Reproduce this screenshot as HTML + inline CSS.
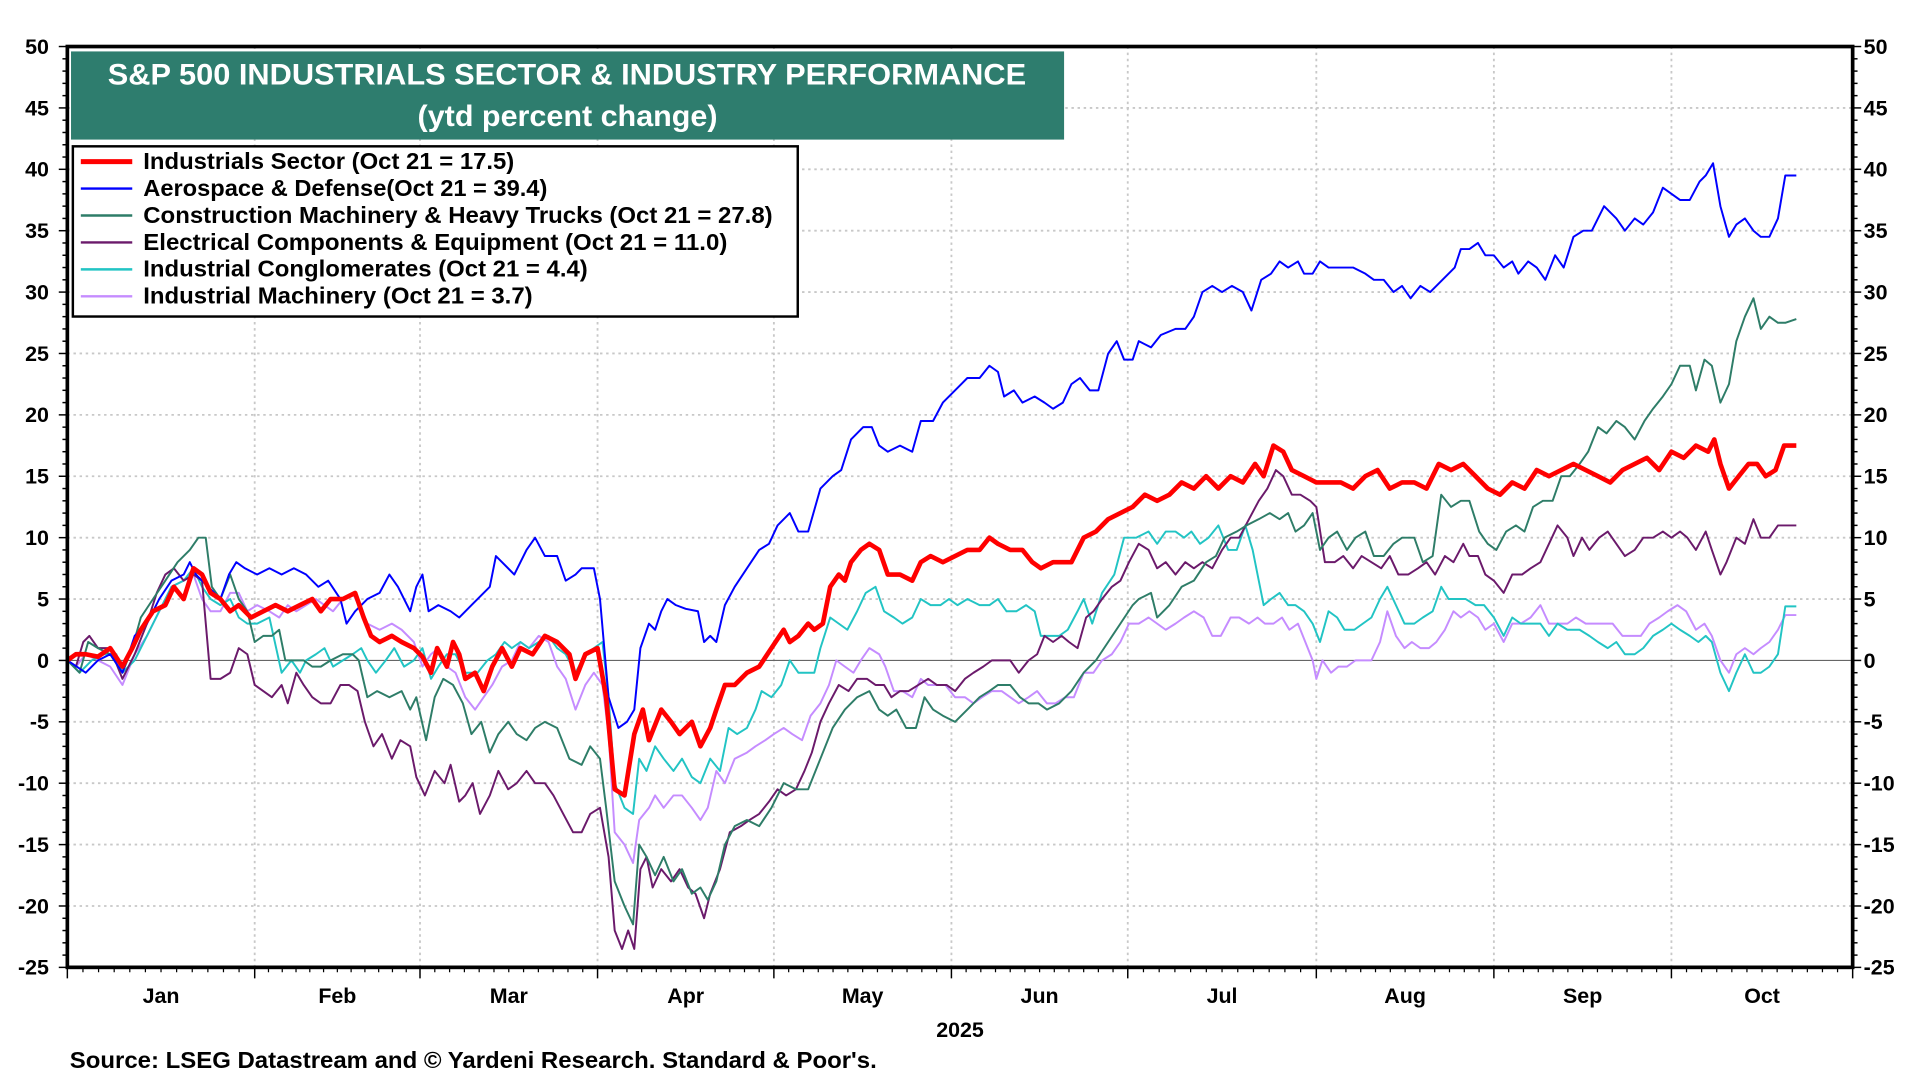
<!DOCTYPE html>
<html><head><meta charset="utf-8"><style>
html,body{margin:0;padding:0;background:#fff;}
svg{display:block;}
text{font-family:"Liberation Sans",Arial,sans-serif;font-weight:bold;}
</style></head><body>
<svg id="c" width="1920" height="1080" viewBox="0 0 1568 882" xmlns="http://www.w3.org/2000/svg">
<rect width="1568" height="882" fill="#fff"/>
<g id="grid"></g>
<g id="series" fill="none" stroke-linejoin="round"></g>
<rect x="55" y="38" width="1458" height="752" fill="none" stroke="#000" stroke-width="3"/>
<g id="ticks"></g>
<rect x="58" y="42" width="811" height="72" fill="#2E7D6E"/>
<text x="88" y="69" fill="#fff" font-size="24" textLength="750" lengthAdjust="spacingAndGlyphs">S&amp;P 500 INDUSTRIALS SECTOR &amp; INDUSTRY PERFORMANCE</text>
<text x="341" y="103" fill="#fff" font-size="24" textLength="245" lengthAdjust="spacingAndGlyphs">(ytd percent change)</text>
<rect x="59.5" y="119.5" width="592" height="139" fill="#fff" stroke="#000" stroke-width="2"/>
<g font-size="18.5">
<line x1="66" y1="132" x2="108" y2="132" stroke="#f00" stroke-width="4"/><text x="117" y="138" textLength="303" lengthAdjust="spacingAndGlyphs">Industrials Sector (Oct 21 = 17.5)</text>
<line x1="66" y1="154" x2="108" y2="154" stroke="#00f" stroke-width="2"/><text x="117" y="160" textLength="330" lengthAdjust="spacingAndGlyphs">Aerospace &amp; Defense(Oct 21 = 39.4)</text>
<line x1="66" y1="176" x2="108" y2="176" stroke="#2E7D68" stroke-width="2"/><text x="117" y="182" textLength="514" lengthAdjust="spacingAndGlyphs">Construction Machinery &amp; Heavy Trucks (Oct 21 = 27.8)</text>
<line x1="66" y1="198" x2="108" y2="198" stroke="#6B1A6B" stroke-width="2"/><text x="117" y="204" textLength="477" lengthAdjust="spacingAndGlyphs">Electrical Components &amp; Equipment (Oct 21 = 11.0)</text>
<line x1="66" y1="220" x2="108" y2="220" stroke="#22C4C4" stroke-width="2"/><text x="117" y="226" textLength="363" lengthAdjust="spacingAndGlyphs">Industrial Conglomerates (Oct 21 = 4.4)</text>
<line x1="66" y1="242" x2="108" y2="242" stroke="#C58CFF" stroke-width="2"/><text x="117" y="248" textLength="318" lengthAdjust="spacingAndGlyphs">Industrial Machinery (Oct 21 = 3.7)</text>
</g>
<g id="labels" font-size="17.5"></g>
<text x="784" y="847" font-size="17.5" text-anchor="middle">2025</text>
<text x="57" y="872" font-size="18.5" textLength="659" lengthAdjust="spacingAndGlyphs">Source: LSEG Datastream and © Yardeni Research. Standard &amp; Poor's.</text>
</svg>
<script>
const NS="http://www.w3.org/2000/svg";
function el(p,t,a,txt){const e=document.createElementNS(NS,t);for(const k in a)e.setAttribute(k,a[k]);if(txt!==undefined)e.textContent=txt;document.getElementById(p).appendChild(e);return e;}
const Y=v=>38+(50-v)*10.027;
const months=[55,208,343,488,632,777,921,1075,1220,1365,1513];
const names=["Jan","Feb","Mar","Apr","May","Jun","Jul","Aug","Sep","Oct"];
for(let v=-20;v<=45;v+=5){ if(v!==0) el("grid","line",{x1:55,x2:1513,y1:Y(v),y2:Y(v),stroke:"#c8c8c8","stroke-width":1.5,"stroke-dasharray":"2,3"}); }
for(let i=1;i<10;i++) el("grid","line",{x1:months[i],x2:months[i],y1:38,y2:790,stroke:"#c8c8c8","stroke-width":1.5,"stroke-dasharray":"2,3"});
el("grid","line",{x1:55,x2:1513,y1:Y(0),y2:Y(0),stroke:"#666","stroke-width":1});
for(let v=-25;v<=50;v++){
 const big=v%5===0;
 el("ticks","line",{x1:big?48:51,x2:55,y1:Y(v),y2:Y(v),stroke:"#000","stroke-width":1.2});
 el("ticks","line",{x1:1513,x2:big?1520:1517,y1:Y(v),y2:Y(v),stroke:"#000","stroke-width":1.2});
 if(big){el("labels","text",{x:40,y:Y(v)+6,"text-anchor":"end"},String(v));el("labels","text",{x:1522,y:Y(v)+6},String(v));}
}
for(let i=0;i<10;i++){
 const a=months[i],b=months[i+1];
 el("ticks","line",{x1:a,x2:a,y1:790,y2:799,stroke:"#000","stroke-width":1.2});
 for(let k=1;k<12;k++){const x=a+(b-a)*k/12;el("ticks","line",{x1:x,x2:x,y1:790,y2:794,stroke:"#000","stroke-width":1});}
 el("labels","text",{x:(a+b)/2,y:819,"text-anchor":"middle"},names[i]);
}
el("ticks","line",{x1:1513,x2:1513,y1:790,y2:799,stroke:"#000","stroke-width":1.2});
function S(str,color,w){const pts=str.trim().split(/,\s*/).map(p=>p.split(":").map(Number));
 el("series","path",{d:"M"+pts.map(p=>p[0]+" "+Y(p[1]).toFixed(1)).join("L"),stroke:color,"stroke-width":w});}
S(`55:0, 62:-0.5, 70:0.5, 80:0, 90:-0.5, 100:-2, 110:0.5, 120:2, 130:4, 140:6, 150:6.5, 158:7, 165:5, 172:4, 180:4, 188:5.5, 195:5.5, 202:4, 210:4.5, 220:4, 228:3.5, 235:4.5, 242:4, 250:4.5, 258:5, 265:4.5, 272:4, 280:5, 288:5.5, 295:4, 300:3, 310:2.5, 320:3, 328:2.5, 338:1.5, 345:-0.5, 352:0.5, 358:1, 365:-0.5, 372:-1, 380:-3, 388:-4, 395:-3, 402:-2, 410:-0.5, 418:0, 425:1.5, 432:1, 440:2, 448:1.5, 455:-0.5, 462:-1.5, 470:-4, 478:-2, 485:-1, 492:-2, 497:-6, 502:-14, 510:-15, 517:-16.5, 522:-13, 530:-12, 535:-11, 542:-12, 550:-11, 557:-11, 565:-12, 572:-13, 578:-12, 585:-9, 592:-10, 600:-8, 610:-7.5, 617:-7, 625:-6.5, 632:-6, 640:-5.5, 647:-6, 655:-6.5, 662:-4.5, 670:-3.5, 677:-2, 683:0, 690:-0.5, 697:-1, 703:0, 710:1, 718:0.5, 723:-0.5, 730:-2.5, 737:-2.5, 745:-3, 752:-1.5, 758:-2, 765:-2, 772:-2, 780:-3, 788:-3, 795:-3.5, 802:-3, 810:-2.5, 818:-2.5, 825:-3, 832:-3.5, 840:-3, 847:-2.5, 855:-3.5, 862:-3.5, 870:-3, 877:-3, 885:-1, 893:-1, 900:0, 908:0.5, 915:1.5, 922:3, 930:3, 938:3.5, 945:3, 952:2.5, 960:3, 967:3.5, 975:4, 983:3.5, 990:2, 997:2, 1005:3.5, 1012:3.5, 1020:3, 1027:3.5, 1033:3, 1040:3, 1047:3.5, 1053:2.5, 1060:3, 1066:1.5, 1072:0, 1075:-1.5, 1080:0, 1087:-1, 1093:-0.5, 1100:-0.5, 1107:0, 1113:0, 1120:0, 1127:1.5, 1133:4, 1140:2, 1147:1, 1153:1.5, 1160:1, 1167:1, 1173:1.5, 1180:2.5, 1187:4, 1193:3.5, 1200:4, 1207:3.5, 1213:2.5, 1220:3, 1228:1.5, 1235:3, 1242:3, 1250:3.5, 1258:4.5, 1265:3, 1272:3, 1280:3, 1287:3.5, 1295:3, 1302:3, 1310:3, 1317:3, 1325:2, 1332:2, 1340:2, 1347:3, 1355:3.5, 1362:4, 1370:4.5, 1377:4, 1385:2.5, 1392:3, 1398:2, 1405:0, 1412:-1, 1418:0.5, 1425:1, 1432:0.5, 1438:1, 1445:1.5, 1452:2.5, 1458:3.7, 1467:3.7`,"#C58CFF",1.6);
S(`55:0, 65:-1, 75:0, 85:0.5, 95:0.5, 100:-1, 110:0, 120:2, 130:4, 140:6, 150:6.5, 158:7.5, 165:6, 172:5, 180:4.5, 188:5, 195:3.5, 202:3, 210:3, 220:3.5, 230:-1, 238:0, 245:-1, 250:0, 258:0.5, 265:1, 272:-0.5, 280:0, 288:0.5, 295:1, 300:0, 307:-1, 315:0, 322:1, 330:-0.5, 338:0, 345:1, 352:-1.5, 358:-0.5, 365:0.5, 372:0.5, 380:-1, 390:-1, 398:0, 405:0.5, 412:1.5, 418:1, 425:1.5, 432:1, 440:1.5, 448:2, 455:1, 462:0.5, 470:-1, 478:0.5, 485:1, 492:1.5, 497:-3, 502:-10, 510:-12, 517:-12.5, 522:-8, 528:-9, 535:-7, 542:-8, 550:-9, 557:-8, 565:-9.5, 572:-10, 580:-8, 588:-9, 595:-5.5, 602:-6, 610:-5.5, 617:-4, 622:-2.5, 630:-3, 638:-2, 645:0, 652:-1, 660:-1, 665:-1, 670:1, 678:3.5, 685:3, 692:2.5, 700:4, 707:5.5, 715:6, 722:4, 730:3.5, 737:3, 745:3.5, 752:5, 760:4.5, 768:4.5, 775:5, 782:4.5, 790:5, 800:4.5, 808:4.5, 815:5, 822:4, 830:4, 838:4.5, 845:4, 850:2, 858:2, 865:2, 872:2.5, 880:4, 885:5, 892:3, 900:5.5, 910:7, 918:10, 928:10, 938:10.5, 945:9.5, 952:10.5, 960:10.5, 967:10, 973:10.5, 980:9.5, 987:10, 995:11, 1003:9, 1010:9, 1017:11, 1023:9, 1028:6.5, 1032:4.5, 1038:5, 1045:5.5, 1052:4.5, 1058:4.5, 1065:4, 1072:3, 1078:1.5, 1085:4, 1092:3.5, 1098:2.5, 1106:2.5, 1113:3, 1120:3.5, 1127:5, 1133:6, 1140:4.5, 1147:3, 1155:3, 1162:3.5, 1170:4, 1177:6, 1183:5, 1190:5, 1197:5, 1205:4.5, 1212:4.5, 1220:3.5, 1228:2, 1235:3.5, 1242:3, 1250:3, 1258:3, 1265:2, 1272:3, 1280:2.5, 1290:2.5, 1298:2, 1305:1.5, 1313:1, 1320:1.5, 1327:0.5, 1335:0.5, 1342:1, 1350:2, 1358:2.5, 1365:3, 1372:2.5, 1380:2, 1387:1.5, 1393:2, 1398:1.5, 1405:-1, 1412:-2.5, 1418:-1, 1425:0.5, 1432:-1, 1438:-1, 1445:-0.5, 1452:0.5, 1458:4.4, 1467:4.4`,"#22C4C4",1.6);
S(`55:0, 62:-0.5, 68:1.5, 73:2, 80:1, 90:1, 100:-1.5, 110:0.5, 120:3, 128:5.5, 135:7, 142:7.5, 150:6.5, 158:7, 165:6.5, 172:-1.5, 180:-1.5, 188:-1, 195:1, 202:0.5, 208:-2, 215:-2.5, 222:-3, 230:-2, 235:-3.5, 242:-1, 248:-2, 255:-3, 262:-3.5, 270:-3.5, 278:-2, 285:-2, 292:-2.5, 298:-5, 305:-7, 312:-6, 320:-8, 327:-6.5, 335:-7, 340:-9.5, 347:-11, 355:-9, 363:-10, 368:-8.5, 375:-11.5, 380:-11, 386:-10, 392:-12.5, 400:-11, 407:-9, 415:-10.5, 422:-10, 430:-9, 437:-10, 445:-10, 452:-11, 460:-12.5, 468:-14, 475:-14, 482:-12.5, 490:-12, 497:-16, 502:-22, 508:-23.5, 513:-22, 518:-23.5, 523:-17, 528:-16, 533:-18.5, 540:-17, 548:-18, 555:-17, 562:-18.5, 568:-19, 575:-21, 580:-19, 588:-17, 596:-14, 605:-13.5, 612:-13, 620:-12.5, 628:-11.5, 635:-10.5, 642:-11, 650:-10.5, 657:-9, 663:-7.5, 670:-5, 677:-3.5, 685:-2, 693:-2.5, 700:-1.5, 708:-1.5, 715:-2, 722:-2, 728:-3, 735:-2.5, 742:-2.5, 750:-2, 758:-1.5, 765:-2, 773:-2, 780:-2.5, 788:-1.5, 795:-1, 803:-0.5, 810:0, 818:0, 825:0, 832:-1, 840:0, 847:0.5, 853:2, 860:1.5, 867:2, 873:1.5, 880:1, 887:3.5, 893:4, 900:5, 908:6, 915:6.5, 922:8, 930:9.5, 938:9, 945:7.5, 952:8, 960:7, 968:8, 975:7.5, 982:8, 990:7.5, 998:9, 1005:10, 1012:10, 1020:11.5, 1028:13, 1035:14, 1042:15.5, 1048:15, 1055:13.5, 1062:13.5, 1070:13, 1075:12.5, 1082:8, 1090:8, 1097:8.5, 1105:7.5, 1112:8.5, 1120:8, 1128:7.5, 1135:8.5, 1142:7, 1150:7, 1158:7.5, 1165:8, 1172:7, 1180:8.5, 1187:8, 1195:9.5, 1200:8.5, 1207:8.5, 1213:7, 1220:6.5, 1228:5.5, 1235:7, 1243:7, 1250:7.5, 1258:8, 1265:9.5, 1272:11, 1280:10, 1285:8.5, 1292:10, 1298:9, 1306:10, 1313:10.5, 1320:9.5, 1327:8.5, 1335:9, 1342:10, 1350:10, 1358:10.5, 1365:10, 1372:10.5, 1378:10, 1385:9, 1393:10.5, 1398:9, 1405:7, 1410:8, 1418:10, 1425:9.5, 1432:11.5, 1438:10, 1445:10, 1452:11, 1467:11`,"#6B1A6B",1.6);
S(`55:0, 65:-1, 72:1.5, 80:1, 90:0.5, 100:-1, 108:1, 115:3.5, 125:5, 135:6.5, 145:8, 155:9, 162:10, 168:10, 173:6, 180:5, 188:7, 195:5, 202:4, 208:1.5, 215:2, 222:2, 228:2.5, 233:0, 240:0, 248:0, 255:-0.5, 262:-0.5, 270:0, 280:0.5, 288:0.5, 293:0, 300:-3, 308:-2.5, 318:-3, 328:-2.5, 335:-4, 340:-3, 348:-6.5, 355:-3, 362:-1.5, 370:-2, 378:-3.5, 385:-6, 393:-5, 400:-7.5, 407:-6, 415:-5, 422:-6, 430:-6.5, 437:-5.5, 445:-5, 455:-5.5, 465:-8, 475:-8.5, 482:-7, 490:-8, 495:-12, 502:-18, 510:-20, 517:-21.5, 522:-15, 528:-16, 535:-17.5, 542:-16, 550:-18, 557:-17, 565:-19, 572:-18.5, 578:-19.5, 585:-18, 592:-15, 600:-13.5, 610:-13, 620:-13.5, 630:-12, 640:-10, 650:-10.5, 660:-10.5, 670:-8, 680:-5.5, 690:-4, 700:-3, 710:-2.5, 718:-4, 725:-4.5, 732:-4, 740:-5.5, 748:-5.5, 755:-3, 762:-4, 770:-4.5, 780:-5, 790:-4, 800:-3, 808:-2.5, 815:-2, 825:-2, 833:-3, 840:-3.5, 848:-3.5, 855:-4, 865:-3.5, 875:-2.5, 885:-1, 895:0, 905:1.5, 915:3, 925:4.5, 930:5, 940:5.5, 945:3.5, 955:4.5, 965:6, 975:6.5, 985:8, 993:8.5, 1000:10, 1010:10.5, 1018:11, 1028:11.5, 1037:12, 1045:11.5, 1052:12, 1058:10.5, 1065:11, 1072:12, 1078:9, 1085:10, 1092:10.5, 1100:9, 1107:10, 1115:10.5, 1122:8.5, 1130:8.5, 1138:9.5, 1145:10, 1155:10, 1162:8, 1170:8.5, 1177:13.5, 1185:12.5, 1193:13, 1200:13, 1208:10.5, 1215:9.5, 1222:9, 1230:10.5, 1238:11, 1245:10.5, 1252:12.5, 1260:13, 1268:13, 1275:15, 1282:15, 1290:16, 1297:17, 1305:19, 1312:18.5, 1320:19.5, 1327:19, 1335:18, 1343:19.5, 1350:20.5, 1358:21.5, 1365:22.5, 1372:24, 1380:24, 1385:22, 1392:24.5, 1398:24, 1405:21, 1412:22.5, 1418:26, 1425:28, 1432:29.5, 1438:27, 1445:28, 1452:27.5, 1458:27.5, 1467:27.8`,"#2E7D68",1.6);
S(`55:0, 70:-1, 80:0, 90:0.5, 100:-1, 110:2, 120:3, 130:5, 140:6.5, 150:7, 155:8, 160:7, 170:6, 180:5, 187:7, 193:8, 200:7.5, 210:7, 220:7.5, 230:7, 240:7.5, 250:7, 260:6, 268:6.5, 278:5, 283:3, 290:4, 300:5, 310:5.5, 318:7, 325:6, 335:4, 340:6, 345:7, 350:4, 358:4.5, 368:4, 375:3.5, 385:4.5, 395:5.5, 400:6, 405:8.5, 410:8, 420:7, 430:9, 437:10, 445:8.5, 455:8.5, 462:6.5, 470:7, 475:7.5, 485:7.5, 490:5, 497:-3, 505:-5.5, 512:-5, 518:-4, 523:1, 530:3, 535:2.5, 540:4, 545:5, 552:4.5, 560:4.2, 570:4, 575:1.5, 580:2, 585:1.5, 592:4.5, 600:6, 610:7.5, 620:9, 628:9.5, 635:11, 645:12, 652:10.5, 660:10.5, 670:14, 680:15, 687:15.5, 695:18, 705:19, 712:19, 718:17.5, 725:17, 735:17.5, 745:17, 752:19.5, 762:19.5, 770:21, 780:22, 790:23, 800:23, 808:24, 815:23.5, 820:21.5, 828:22, 835:21, 845:21.5, 853:21, 860:20.5, 868:21, 875:22.5, 882:23, 890:22, 897:22, 905:25, 912:26, 918:24.5, 925:24.5, 930:26, 940:25.5, 948:26.5, 960:27, 968:27, 975:28, 982:30, 990:30.5, 998:30, 1006:30.5, 1015:30, 1022:28.5, 1030:31, 1038:31.5, 1045:32.5, 1052:32, 1060:32.5, 1065:31.5, 1072:31.5, 1078:32.5, 1085:32, 1095:32, 1105:32, 1115:31.5, 1122:31, 1130:31, 1138:30, 1145:30.5, 1152:29.5, 1160:30.5, 1168:30, 1178:31, 1188:32, 1193:33.5, 1200:33.5, 1207:34, 1213:33, 1220:33, 1228:32, 1235:32.5, 1240:31.5, 1248:32.5, 1255:32, 1262:31, 1270:33, 1277:32, 1285:34.5, 1293:35, 1300:35, 1310:37, 1320:36, 1327:35, 1335:36, 1342:35.5, 1350:36.5, 1358:38.5, 1365:38, 1372:37.5, 1380:37.5, 1388:39, 1393:39.5, 1399:40.5, 1405:37, 1412:34.5, 1418:35.5, 1425:36, 1432:35, 1438:34.5, 1445:34.5, 1452:36, 1458:39.5, 1467:39.5`,"#0000FF",1.6);
S(`55:0, 62:0.5, 70:0.5, 80:0.3, 90:1, 100:-0.5, 108:1, 115:2.5, 125:4, 135:4.5, 142:6, 150:5, 158:7.5, 165:7, 172:5.5, 180:5, 188:4, 195:4.5, 205:3.5, 215:4, 225:4.5, 235:4, 245:4.5, 255:5, 262:4, 270:5, 280:5, 290:5.5, 297:3.5, 303:2, 310:1.5, 320:2, 328:1.5, 338:1, 345:0.3, 352:-1, 357:1, 365:-0.5, 370:1.5, 375:0.5, 380:-1.5, 388:-1, 395:-2.5, 402:-0.5, 410:1, 418:-0.5, 425:1, 435:0.5, 445:2, 455:1.5, 465:0.5, 470:-1.5, 478:0.5, 488:1, 495:-3, 502:-10.5, 510:-11, 518:-6, 525:-4, 530:-6.5, 540:-4, 548:-5, 555:-6, 565:-5, 572:-7, 580:-5.5, 585:-4, 592:-2, 600:-2, 610:-1, 620:-0.5, 630:1, 640:2.5, 645:1.5, 652:2, 660:3, 665:2.5, 672:3, 678:6, 685:7, 690:6.5, 695:8, 703:9, 710:9.5, 718:9, 725:7, 735:7, 745:6.5, 752:8, 760:8.5, 770:8, 780:8.5, 790:9, 800:9, 808:10, 815:9.5, 825:9, 835:9, 843:8, 850:7.5, 860:8, 875:8, 885:10, 895:10.5, 905:11.5, 915:12, 925:12.5, 935:13.5, 945:13, 955:13.5, 965:14.5, 975:14, 985:15, 995:14, 1005:15, 1015:14.5, 1025:16, 1032:15, 1040:17.5, 1048:17, 1055:15.5, 1065:15, 1075:14.5, 1085:14.5, 1095:14.5, 1105:14, 1115:15, 1125:15.5, 1135:14, 1145:14.5, 1155:14.5, 1165:14, 1175:16, 1185:15.5, 1195:16, 1205:15, 1215:14, 1225:13.5, 1235:14.5, 1245:14, 1255:15.5, 1265:15, 1275:15.5, 1285:16, 1295:15.5, 1305:15, 1315:14.5, 1325:15.5, 1335:16, 1345:16.5, 1355:15.5, 1365:17, 1375:16.5, 1385:17.5, 1395:17, 1400:18, 1405:16, 1412:14, 1420:15, 1428:16, 1435:16, 1442:15, 1450:15.5, 1457:17.5, 1467:17.5`,"#FF0000",3.8);
</script>
</body></html>
